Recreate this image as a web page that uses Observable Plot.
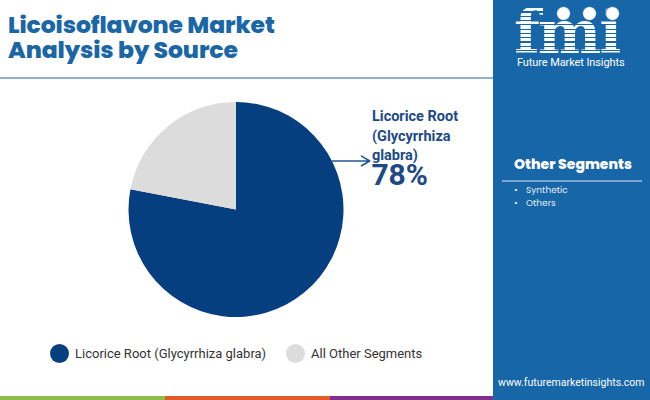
<!DOCTYPE html>
<html><head><meta charset="utf-8">
<script src="https://cdn.jsdelivr.net/npm/d3@7"></script>
<script src="https://cdn.jsdelivr.net/npm/@observablehq/plot@0.6"></script>
<style>
html,body{margin:0;padding:0;background:#fff;}
#wrap{position:relative;width:650px;height:400px;overflow:hidden;background:#fff;font-family:Roboto,sans-serif;}
.tl{position:absolute;left:8px;font-family:Poppins,Inter,sans-serif;font-weight:800;font-size:23.5px;line-height:24px;height:24px;color:#1b67a6;letter-spacing:-0.1px;white-space:nowrap;}
#rule{position:absolute;left:0;top:77px;width:493px;height:2px;background:#8fb0d2;}
#panel{position:absolute;left:493px;top:0;width:157px;height:400px;background:#1766a8;}
#logo{position:absolute;left:514px;top:4px;height:52px;font-family:"DejaVu Serif",serif;font-weight:700;font-size:60px;line-height:56px;letter-spacing:-2px;
 background:repeating-linear-gradient(to bottom,#fff 0 3px,#1766a8 3px 4.3px);-webkit-background-clip:text;background-clip:text;color:transparent;}
.globe{position:absolute;width:13px;height:13px;border-radius:50%;background:#fff;border:1px solid #1766a8;}
#fmitext{position:absolute;left:517px;top:56px;color:#fff;font-family:Roboto,sans-serif;font-size:11px;letter-spacing:-0.1px;}
#oseg{position:absolute;left:514px;top:154px;color:#fff;font-family:Poppins,Inter,sans-serif;font-weight:800;font-size:14px;}
#oline{position:absolute;left:502px;top:180px;width:140px;height:1.5px;background:#7aa6d3;}
#olist{position:absolute;left:514px;top:184px;color:#e8f0f8;font-family:Poppins,Inter,sans-serif;font-size:9px;line-height:12.5px;}
#olist div span{display:inline-block;width:12px;}
#url{position:absolute;left:498px;top:376px;color:#fff;font-family:Roboto,sans-serif;font-size:10.5px;}
.stripe{position:absolute;top:396px;height:4px;}
#chart{position:absolute;left:0;top:85px;}
#legend{position:absolute;left:0;top:343px;width:493px;font-family:Roboto,sans-serif;font-size:13px;color:#333;}
.li{position:absolute;top:0;display:flex;align-items:center;height:20px;}
.sw{width:19px;height:19px;border-radius:50%;margin-right:6px;}
</style></head>
<body>
<div id="wrap">
  <div class="tl" style="top:13px">Licoisoflavone Market</div>
  <div class="tl" style="top:38px">Analysis by Source</div>
  <div id="rule"></div>
  <div id="panel"></div>
  <div id="logo">fmi</div>
  <div class="globe" style="left:556px;top:6px"></div>
  <div class="globe" style="left:582px;top:6px"></div>
  <div class="globe" style="left:605px;top:6px"></div>
  <div id="fmitext">Future Market Insights</div>
  <div id="oseg">Other Segments</div>
  <div id="oline"></div>
  <div id="olist"></div>
  <div id="url">www.futuremarketinsights.com</div>
  <div class="stripe" style="left:0;width:165px;background:#8dc04a"></div>
  <div class="stripe" style="left:165px;width:165px;background:#e35a2b"></div>
  <div class="stripe" style="left:330px;width:163px;background:#7f2f8e"></div>
  <div id="chart"></div>
  <div id="legend"></div>
</div>
<script>
// ---- data ----
const categories = ["Licorice Root (Glycyrrhiza glabra)", "All Other Segments"];
const shares = [78, 22];
const colors = ["#063f7f", "#dcdcdc"];
const calloutLabel = "Licorice Root\n(Glycyrrhiza\nglabra)";
const calloutValue = "78%";
const otherSegments = ["Synthetic", "Others"];

const data = categories.map((c, i) => ({category: c, value: shares[i]}));
const color = Plot.scale({color: {type: "ordinal", domain: categories, range: colors}});

const pieMark = (index, scales, values, dimensions) => {
  const cx = scales.x(0), cy = scales.y(0);
  const r = Math.abs(scales.x(1) - scales.x(0));
  const arcs = d3.pie().sort(null).value(d => d.value)(data);
  const arc = d3.arc().innerRadius(0).outerRadius(r);
  const g = d3.create("svg:g").attr("transform", `translate(${cx},${cy})`);
  g.selectAll("path").data(arcs).join("path")
    .attr("d", arc)
    .attr("fill", d => color.apply(d.data.category));
  return g.node();
};

// callout geometry in unit-circle coordinates
const arrowY = 0.456;
const callout = [{x1: Math.sqrt(1 - arrowY * arrowY), y1: arrowY, x2: 1.24, y2: arrowY}];

const plot = Plot.plot({
  width: 493, height: 250,
  margin: 0,
  x: {domain: [-1, 1], range: [128.5, 343.5], axis: null},
  y: {domain: [-1, 1], range: [232, 17], axis: null},
  marks: [
    pieMark,
    Plot.arrow(callout, {x1: "x1", y1: "y1", x2: "x2", y2: "y2", stroke: "#1f5a96", strokeWidth: 1.6, headLength: 9, bend: 0}),
    Plot.text([calloutLabel], {x: 1.26, y: 0.958, text: d => d, textAnchor: "start", lineAnchor: "top", lineHeight: 1.36,
      fontSize: 14.5, fontWeight: 700, fill: "#1d4a85", fontFamily: "Roboto"}),
    Plot.text([calloutValue], {x: 1.255, y: 0.428, text: d => d, textAnchor: "start", lineAnchor: "top",
      fontSize: 30, fontWeight: 700, fill: "#1d4a85", fontFamily: "Roboto"})
  ]
});
document.getElementById("chart").appendChild(plot);

// legend
const legend = document.getElementById("legend");
const legX = [50, 286];
categories.forEach((c, i) => {
  const item = document.createElement("div");
  item.className = "li";
  item.style.left = legX[i] + "px";
  item.innerHTML = `<div class="sw" style="background:${color.apply(c)}"></div><div>${c}</div>`;
  legend.appendChild(item);
});

// other segments list
const ol = document.getElementById("olist");
otherSegments.forEach(s => {
  const d = document.createElement("div");
  d.innerHTML = `<span>•</span>${s}`;
  ol.appendChild(d);
});
</script>
</body></html>
